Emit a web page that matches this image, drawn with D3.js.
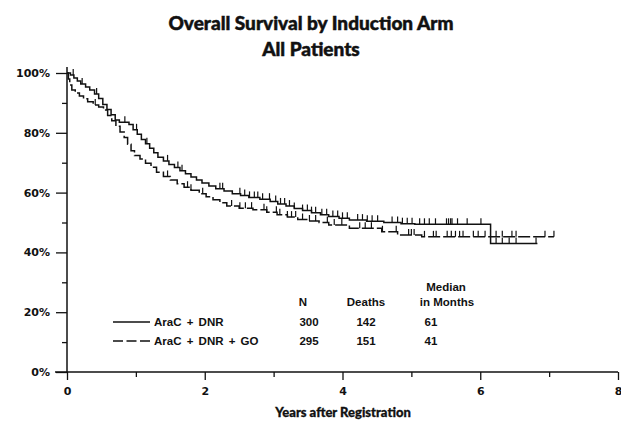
<!DOCTYPE html>
<html>
<head>
<meta charset="utf-8">
<script src="https://cdn.jsdelivr.net/npm/d3@7"></script>
<style>
  html, body { margin: 0; padding: 0; background: #fff; }
  svg { display: block; }
</style>
</head>
<body>
<svg id="chart" width="621" height="423"></svg>
<script>
// ---------------- data ----------------
const titleLines = ["Overall Survival by Induction Arm", "All Patients"];
const xLabel = "Years after Registration";
const xTicks = [0, 2, 4, 6, 8];
const xMinorTicks = [1, 3, 5, 7];
const yTicks = [0, 20, 40, 60, 80, 100];
const yMinorTicks = [10, 30, 50, 70, 90];

const groups = ["AraC + DNR", "AraC + DNR + GO"];
const nValues = [300, 295];
const deathValues = [142, 151];
const medianMonths = [61, 41];
const tableHeaders = ["N", "Deaths", "Median", "in Months"];

// Kaplan-Meier step points (years, % surviving) – AraC + DNR (solid)
const solidTimes = [0, 0.05, 0.10, 0.15, 0.20, 0.27, 0.33, 0.40, 0.46, 0.52, 0.58, 0.64, 0.70, 0.76, 0.90, 0.96, 1.02, 1.08, 1.14, 1.20, 1.26, 1.32, 1.40, 1.48, 1.56, 1.64, 1.72, 1.80, 1.88, 1.96, 2.06, 2.16, 2.28, 2.40, 2.52, 2.64, 2.80, 2.95, 3.06, 3.18, 3.30, 3.42, 3.55, 3.68, 3.80, 3.95, 4.10, 4.35, 4.60, 4.85, 5.05, 6.15];
const solidSurv  = [100, 99.3, 98.3, 97.3, 96.3, 95.3, 94.3, 93.0, 91.5, 89.5, 87.8, 86.0, 84.3, 83.5, 82.8, 81.0, 79.5, 77.8, 76.3, 74.8, 73.3, 71.8, 70.6, 69.4, 68.4, 67.3, 66.3, 65.2, 64.2, 63.2, 62.2, 61.3, 60.5, 59.6, 59.0, 58.4, 57.8, 57.0, 56.2, 55.5, 54.7, 54.0, 53.3, 52.6, 52.0, 51.4, 50.8, 50.4, 50.0, 49.6, 49.4, 43.0];
const solidEnd = 6.83;
const solidCensor = [0.09, 0.22, 0.43, 0.84, 1.01, 1.16, 1.46, 1.61, 1.67, 2.22, 2.26, 2.51, 2.58, 2.65, 2.72, 2.77, 2.84, 2.94, 3.03, 3.10, 3.16, 3.23, 3.30, 3.42, 3.49, 3.55, 3.61, 3.70, 3.77, 3.86, 3.93, 4.00, 4.07, 4.22, 4.29, 4.36, 4.43, 4.51, 4.72, 4.80, 4.87, 4.94, 5.01, 5.12, 5.19, 5.26, 5.35, 5.51, 5.54, 5.57, 5.59, 5.67, 5.81, 6.01, 6.23, 6.32, 6.42, 6.52, 6.81];

// AraC + DNR + GO (dashed)
const dashedTimes = [0, 0.02, 0.04, 0.07, 0.12, 0.18, 0.24, 0.30, 0.38, 0.46, 0.53, 0.59, 0.65, 0.71, 0.77, 0.83, 0.88, 0.93, 0.98, 1.06, 1.14, 1.22, 1.30, 1.40, 1.50, 1.60, 1.70, 1.80, 1.92, 2.02, 2.12, 2.22, 2.32, 2.50, 2.70, 2.90, 3.05, 3.20, 3.35, 3.50, 3.66, 3.80, 4.10, 4.57, 4.80, 5.15];
const dashedSurv  = [100, 98.0, 96.0, 94.3, 93.3, 92.3, 91.4, 90.4, 89.3, 88.6, 87.6, 85.8, 84.0, 82.2, 80.3, 78.4, 76.2, 74.0, 72.4, 71.2, 69.8, 68.5, 66.8, 65.4, 64.2, 63.0, 61.8, 60.8, 59.6, 58.6, 57.6, 56.6, 55.5, 54.8, 54.3, 53.4, 52.6, 51.8, 51.0, 50.5, 50.0, 49.2, 48.1, 46.9, 45.8, 45.2];
const dashedEnd = 7.07;
const dashedCensor = [0.41, 1.46, 1.75, 1.80, 1.97, 2.39, 2.51, 2.59, 2.68, 2.86, 2.90, 3.04, 3.09, 3.20, 3.26, 3.32, 3.42, 3.52, 3.61, 3.78, 3.88, 3.99, 4.25, 4.33, 4.42, 4.58, 4.78, 4.96, 5.00, 5.04, 5.19, 5.32, 5.36, 5.52, 5.58, 5.64, 5.70, 5.75, 5.90, 5.97, 6.07, 6.23, 6.32, 6.46, 6.52, 6.94, 7.07];

// ---------------- chart ----------------
const svg = d3.select("#chart");
const x = d3.scaleLinear().domain([0, 8]).range([67, 618]);
const y = d3.scaleLinear().domain([0, 100]).range([372, 73]);

const labelFont = "'DejaVu Sans', sans-serif";
const tableFont = "'Liberation Sans', Arial, sans-serif";
const titleFont = "Lato, 'Open Sans', sans-serif";

// title
svg.append("g").selectAll("text").data(titleLines).join("text")
  .attr("x", 311).attr("y", (d, i) => 30 + i * 26)
  .attr("text-anchor", "middle")
  .attr("font-family", titleFont).attr("font-weight", 900)
  .attr("font-size", 19).attr("fill", "#111")
  .attr("stroke", "#111").attr("stroke-width", 0.5)
  .text(d => d);

// y axis
const yAxis = svg.append("g").attr("transform", `translate(${x(0)},0)`)
  .call(d3.axisLeft(y).tickValues(yTicks).tickSize(11).tickPadding(6).tickFormat(d => d + "%"));
yAxis.select(".domain").remove();
yAxis.selectAll("line").attr("stroke", "#111").attr("stroke-width", 1.3);
yAxis.selectAll("text").attr("font-family", labelFont).attr("font-weight", "bold")
  .attr("font-size", 11).attr("fill", "#111");
const yMinor = svg.append("g").attr("transform", `translate(${x(0)},0)`)
  .call(d3.axisLeft(y).tickValues(yMinorTicks).tickSize(5).tickFormat(""));
yMinor.select(".domain").remove();
yMinor.selectAll("line").attr("stroke", "#111").attr("stroke-width", 1.3);
svg.append("line").attr("x1", x(0)).attr("x2", x(0)).attr("y1", 67).attr("y2", y(0))
  .attr("stroke", "#111").attr("stroke-width", 1.5);

// x axis
const xAxis = svg.append("g").attr("transform", `translate(0,${y(0)})`)
  .call(d3.axisBottom(x).tickValues(xTicks).tickSize(8).tickPadding(7).tickFormat(d3.format("d")));
xAxis.select(".domain").remove();
xAxis.selectAll("line").attr("stroke", "#111").attr("stroke-width", 1.3);
xAxis.selectAll("text").attr("font-family", labelFont).attr("font-weight", "bold")
  .attr("font-size", 11).attr("fill", "#111");
const xMinor = svg.append("g").attr("transform", `translate(0,${y(0)})`)
  .call(d3.axisBottom(x).tickValues(xMinorTicks).tickSize(5).tickFormat(""));
xMinor.select(".domain").remove();
xMinor.selectAll("line").attr("stroke", "#111").attr("stroke-width", 1.3);
svg.append("line").attr("x1", 55).attr("x2", x(8)).attr("y1", y(0)).attr("y2", y(0))
  .attr("stroke", "#111").attr("stroke-width", 1.5);

svg.append("text").attr("x", 343).attr("y", 417).attr("text-anchor", "middle")
  .attr("font-family", titleFont).attr("font-weight", 900).attr("font-size", 13)
  .attr("fill", "#111").attr("stroke", "#111").attr("stroke-width", 0.3).text(xLabel);

// survival curves
function stepPoints(times, surv, end) {
  const pts = times.map((t, i) => [t, surv[i]]);
  pts.push([end, surv[surv.length - 1]]);
  return pts;
}
function survAt(times, surv, t) {
  const i = d3.bisectRight(times, t) - 1;
  return surv[Math.max(0, i)];
}
const line = d3.line().x(d => x(d[0])).y(d => y(d[1])).curve(d3.curveStepAfter);

const curves = [
  { times: solidTimes, surv: solidSurv, end: solidEnd, censor: solidCensor, dash: null, legendDash: null },
  { times: dashedTimes, surv: dashedSurv, end: dashedEnd, censor: dashedCensor, dash: "12,3", legendDash: "10,3.5" }
];
curves.forEach(c => {
  svg.append("path").datum(stepPoints(c.times, c.surv, c.end))
    .attr("d", line).attr("fill", "none").attr("stroke", "#111")
    .attr("stroke-width", 1.5).attr("stroke-dasharray", c.dash);
  svg.append("g").selectAll("line").data(c.censor).join("line")
    .attr("x1", d => x(d)).attr("x2", d => x(d))
    .attr("y1", d => y(survAt(c.times, c.surv, d)))
    .attr("y2", d => y(survAt(c.times, c.surv, d)) - 6)
    .attr("stroke", "#111").attr("stroke-width", 1.2);
});

// legend / table
const tbl = svg.append("g").attr("font-family", tableFont).attr("font-weight", "bold")
  .attr("font-size", 11.5).attr("fill", "#111");
const colN = 309, colD = 366, colM = 431;
tbl.append("text").attr("x", 446).attr("y", 291).attr("text-anchor", "middle").text(tableHeaders[2]);
tbl.append("text").attr("x", 303).attr("y", 306).attr("text-anchor", "middle").text(tableHeaders[0]);
tbl.append("text").attr("x", colD).attr("y", 306).attr("text-anchor", "middle").text(tableHeaders[1]);
tbl.append("text").attr("x", 447).attr("y", 306).attr("text-anchor", "middle").text(tableHeaders[3]);

groups.forEach((g, i) => {
  const yy = 326 + i * 19;
  tbl.append("line").attr("x1", 113).attr("x2", 150).attr("y1", yy - 4).attr("y2", yy - 4)
    .attr("stroke", "#111").attr("stroke-width", 1.3)
    .attr("stroke-dasharray", curves[i].legendDash);
  tbl.append("text").attr("x", 154).attr("y", yy).attr("word-spacing", 2).text(g);
  tbl.append("text").attr("x", colN).attr("y", yy).attr("text-anchor", "middle").text(nValues[i]);
  tbl.append("text").attr("x", colD).attr("y", yy).attr("text-anchor", "middle").text(deathValues[i]);
  tbl.append("text").attr("x", colM).attr("y", yy).attr("text-anchor", "middle").text(medianMonths[i]);
});
</script>
</body>
</html>
